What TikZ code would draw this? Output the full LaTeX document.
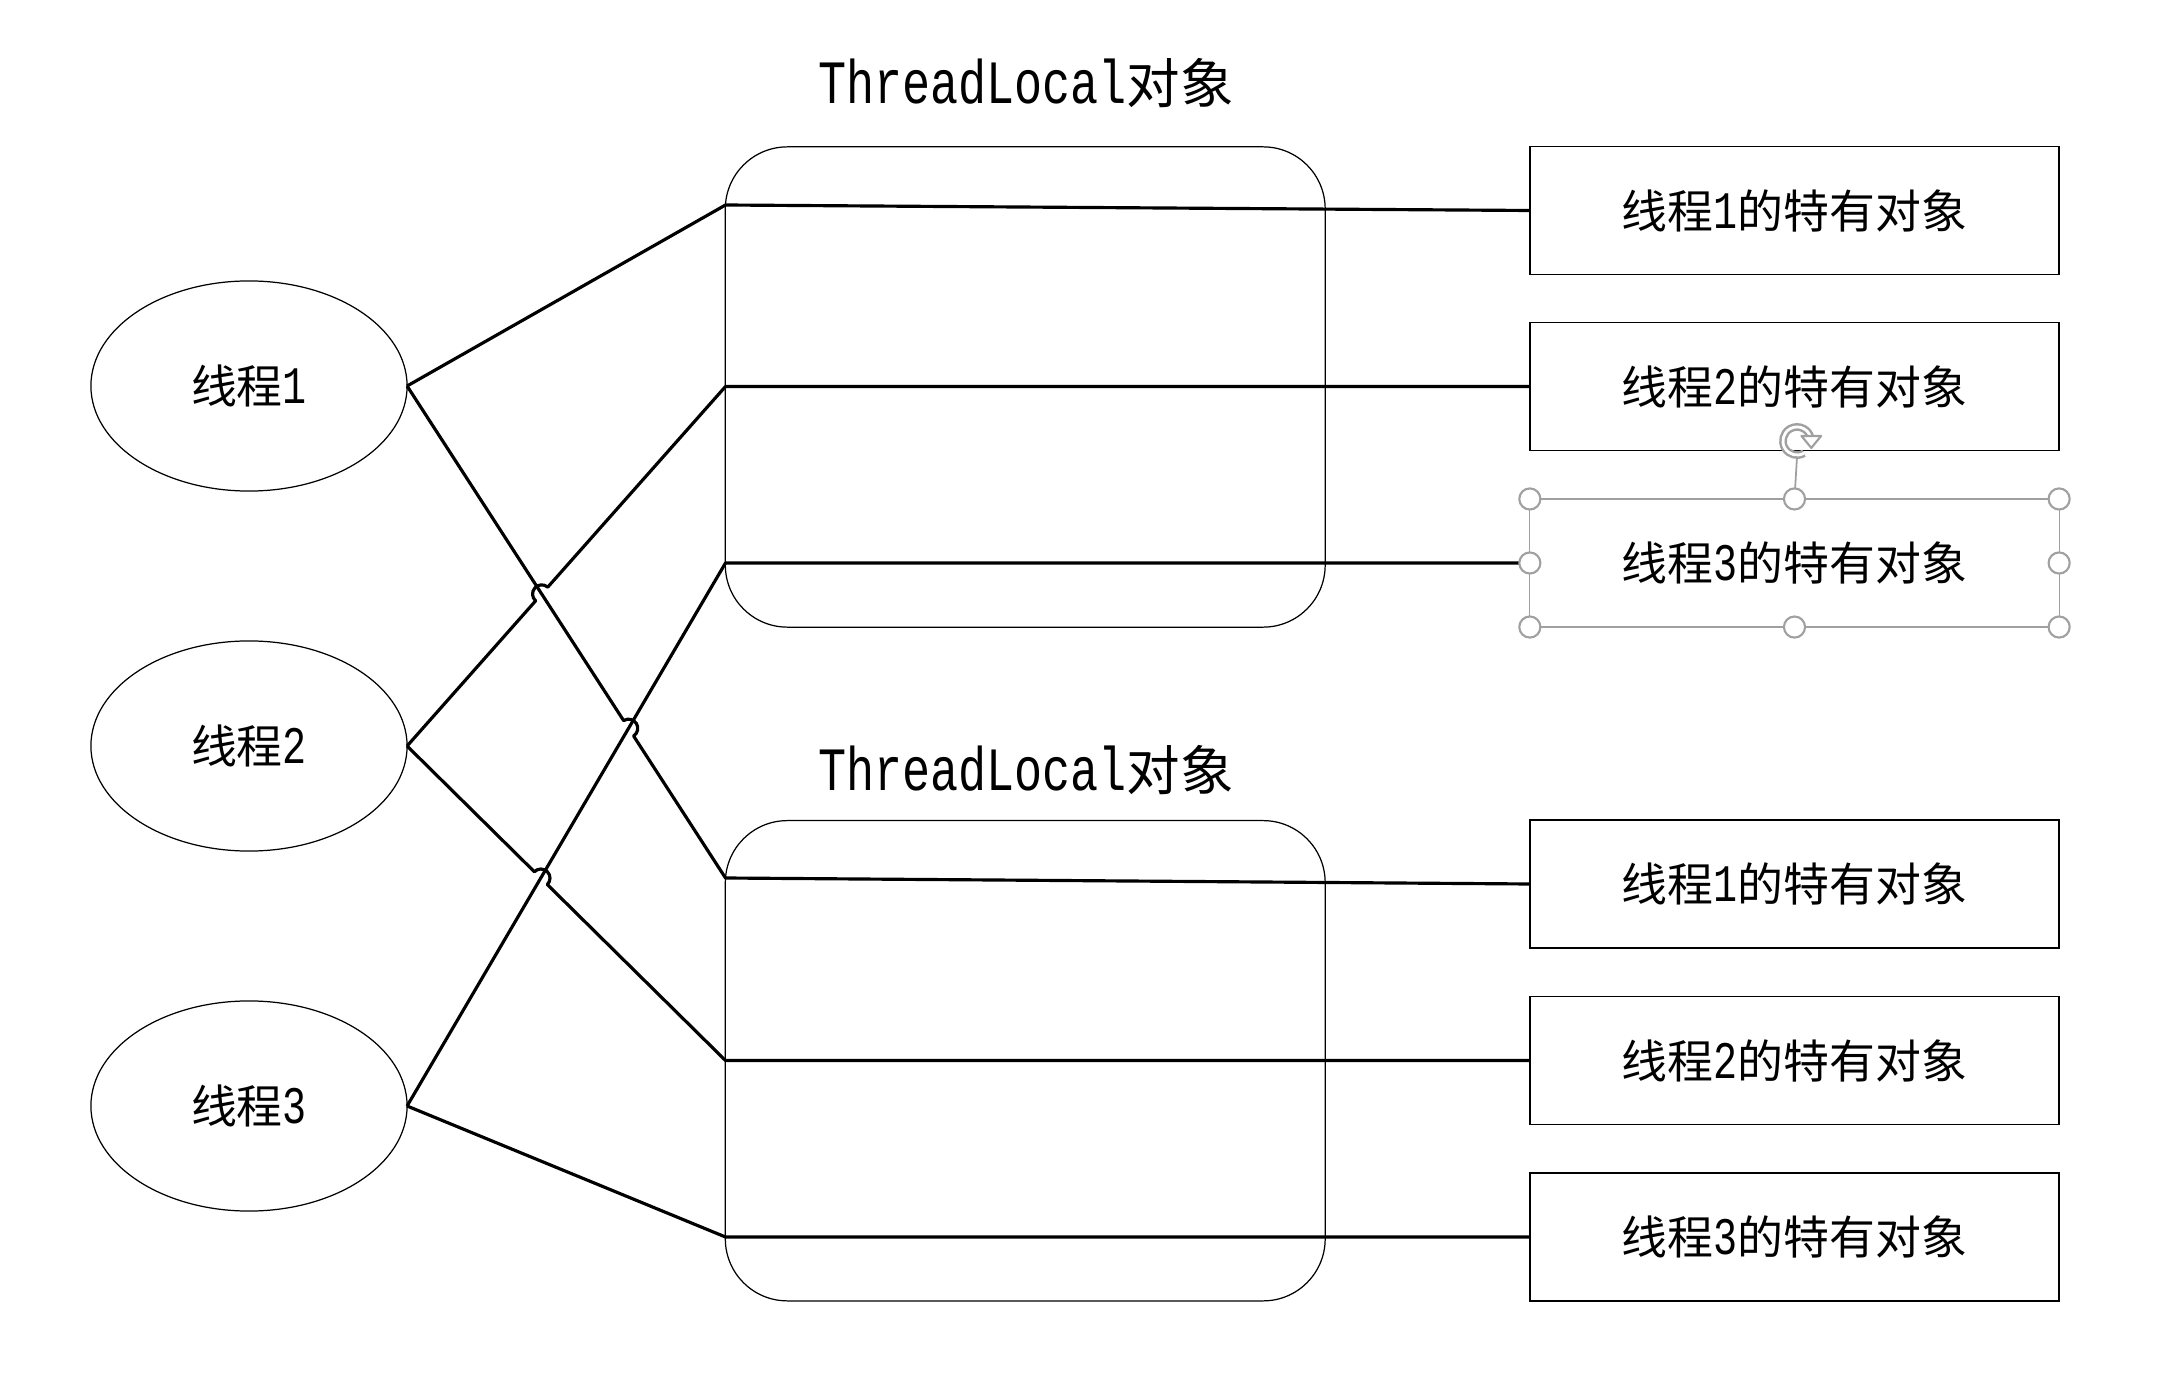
\documentclass[tikz,border=0pt]{standalone}
\usepackage{fontspec}
\setmainfont{Liberation Mono}[FakeStretch=0.76]
\newfontfamily\cjk{Noto Sans CJK SC}[Scale=0.87]
\usetikzlibrary{calc,arrows.meta,shapes.geometric}
\definecolor{selgray}{RGB}{160,160,160}
\newcommand\fs{\fontsize{15pt}{18pt}\selectfont}
\newcommand\ft{\fontsize{17.5pt}{20pt}\selectfont}
\begin{document}
\begin{tikzpicture}[x=0.01cm,y=-0.01cm,
 conn/.style={line width=0.9pt, line join=round},
 thread/.style={ellipse, draw, line width=0.35pt, minimum width=3.16cm, minimum height=2.1cm, inner sep=0pt, outer sep=0pt, font=\fs},
 tlbox/.style={draw, line width=0.35pt, rounded corners=0.62cm, minimum width=5.995cm, minimum height=4.8cm, inner sep=0pt, outer sep=0pt},
 objbox/.style={draw, line width=0.4pt, minimum width=5.29cm, minimum height=1.28cm, inner sep=0pt, outer sep=0pt, font=\fs},
 selbox/.style={objbox, draw=selgray, line width=0.35pt},
 title/.style={font=\ft, inner sep=0pt},
 handle/.style={circle, draw=selgray, fill=white, line width=0.6pt, minimum size=6pt, inner sep=0pt},
]
\useasboundingbox (0,0) rectangle (2171,1379);

% ThreadLocal containers
\node[tlbox] (L1) at (1025.25,387) {};
\node[tlbox] (L2) at (1025.25,1060.75) {};
\node[title] (h1) at (1026,83) {ThreadLocal{\cjk 对象}};
\node[title] (h2) at (1026,770) {ThreadLocal{\cjk 对象}};

% threads
\node[thread] (t1) at (249,386) {{\cjk 线程}1};
\node[thread] (t2) at (249,746) {{\cjk 线程}2};
\node[thread] (t3) at (249,1106) {{\cjk 线程}3};

% per-thread objects
\node[objbox] (b1) at (1794.5,210.5) {{\cjk 线程}1{\cjk 的特有对象}};
\node[objbox] (b2) at (1794.5,386.5) {{\cjk 线程}2{\cjk 的特有对象}};
\node[selbox] (b3) at (1794.5,563) {{\cjk 线程}3{\cjk 的特有对象}};
\node[objbox] (b4) at (1794.5,884) {{\cjk 线程}1{\cjk 的特有对象}};
\node[objbox] (b5) at (1794.5,1060.5) {{\cjk 线程}2{\cjk 的特有对象}};
\node[objbox] (b6) at (1794.5,1237) {{\cjk 线程}3{\cjk 的特有对象}};

% turning points on the left edge of the containers
\coordinate (s1) at (t1.east);
\coordinate (s2) at (t2.east);
\coordinate (s3) at (t3.east);
\coordinate (p1) at (725.5,205);
\coordinate (p2) at (725.5,386.5);
\coordinate (p3) at (725.5,563);
\coordinate (p4) at (725.5,878);
\coordinate (p5) at (725.5,1060.5);
\coordinate (p6) at (725.5,1237);

% crossings
\coordinate (X1) at (intersection of s2--p2 and s1--p4);
\coordinate (X2) at (intersection of s1--p4 and s3--p3);
\coordinate (X3) at (intersection of s2--p5 and s3--p3);

% plain connectors
\draw[conn] (s1) -- (p1) -- (b1.west);
\draw[conn] (s3) -- (p3) -- (b3.west);
\draw[conn] (s3) -- (p6) -- (b6.west);

% connectors with line hops
\draw[conn] let \p1=($(p2)-(s2)$), \n1={atan2(\y1,\x1)} in
  (s2) -- ($(X1)!2.6pt!(s2)$) arc[start angle=\n1+180, delta angle=-180, radius=2.6pt] -- (p2) -- (b2.west);
\draw[conn] let \p1=($(p4)-(s1)$), \n1={atan2(\y1,\x1)} in
  (s1) -- ($(X2)!2.6pt!(s1)$) arc[start angle=\n1+180, delta angle=-180, radius=2.6pt] -- (p4) -- (b4.west);
\draw[conn] let \p1=($(p5)-(s2)$), \n1={atan2(\y1,\x1)} in
  (s2) -- ($(X3)!2.6pt!(s2)$) arc[start angle=\n1+180, delta angle=-180, radius=2.6pt] -- (p5) -- (b5.west);

% selection handles on box 3 (rotation handle included)
\coordinate (rot) at (1797,441);
\draw[selgray, line width=0.5pt] (b3.north) -- ($(rot)+(0,16)$);
\draw[selgray, line width=2.2pt] ($(rot)+(-60:4pt)$) arc[start angle=-60, delta angle=-285, radius=4pt];
\draw[white, line width=0.8pt] ($(rot)+(-60:4pt)$) arc[start angle=-60, delta angle=-285, radius=4pt];
\draw[selgray, fill=white, line width=0.6pt, line join=round]
  ($(rot)+(15:4pt)+(-2.6pt,0.4pt)$) -- ($(rot)+(15:4pt)+(3pt,0.4pt)$) -- ($(rot)+(15:4pt)+(0.2pt,-3pt)$) -- cycle;
\node[handle] (hnw) at (b3.north west) {};
\node[handle] (hn) at (b3.north) {};
\node[handle] (hne) at (b3.north east) {};
\node[handle] (hw) at (b3.west) {};
\node[handle] (he) at (b3.east) {};
\node[handle] (hsw) at (b3.south west) {};
\node[handle] (hs) at (b3.south) {};
\node[handle] (hse) at (b3.south east) {};
\end{tikzpicture}
\end{document}
